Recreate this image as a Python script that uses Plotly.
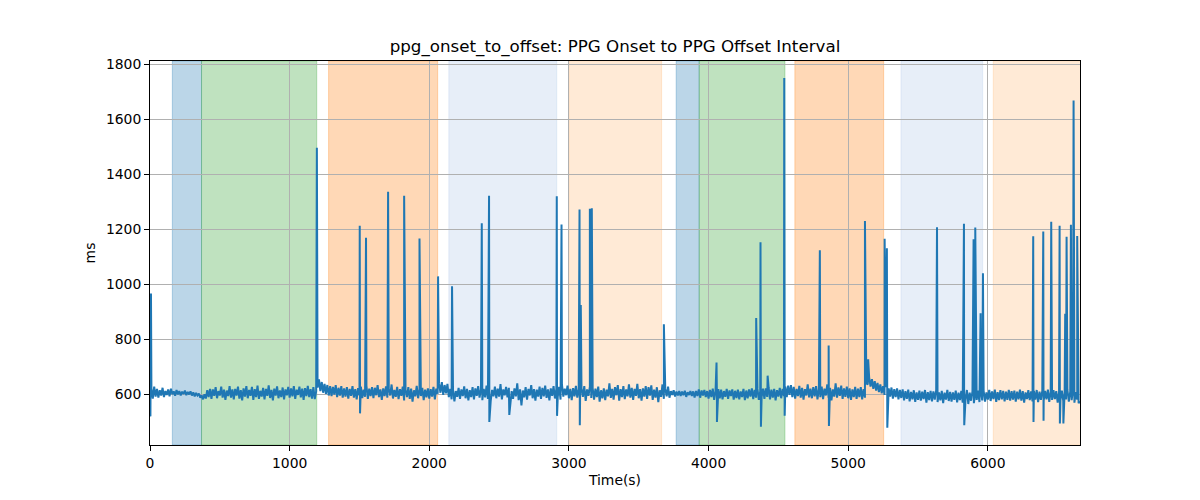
import numpy as np
import plotly.graph_objects as go

# ---------------- data ----------------
# baseline samples every 10 s (0 .. 6660 s)
base_step = 10
base_values = [
    560, 622, 585, 628, 592, 620, 588, 615, 596, 624, 590, 612, 598, 618, 593, 621, 600, 611, 595, 616,
    600, 612, 596, 610, 601, 614, 597, 609, 600, 611, 596, 607, 593, 605, 596, 603, 588, 597, 582, 600,
    585, 615, 590, 620, 584, 618, 595, 626, 586, 612, 596, 628, 588, 617, 580, 614, 594, 630, 588, 618,
    582, 620, 596, 628, 585, 615, 578, 622, 592, 630, 586, 616, 595, 627, 580, 619, 590, 632, 584, 613,
    592, 624, 582, 620, 595, 633, 587, 616, 578, 621, 596, 629, 586, 614, 590, 625, 582, 618, 597, 627,
    588, 622, 593, 630, 584, 617, 598, 628, 589, 621, 580, 623, 594, 631, 590, 619, 585, 626, 583, 612,
    625, 655, 612, 645, 606, 638, 602, 634, 596, 630, 594, 627, 599, 634, 590, 624, 596, 630, 588, 622,
    592, 626, 585, 620, 595, 630, 588, 619, 582, 623, 597, 628, 587, 617, 591, 632, 584, 621, 594, 626,
    586, 624, 597, 634, 590, 618, 580, 622, 594, 629, 588, 620, 596, 636, 585, 616, 591, 627, 583, 619,
    595, 628, 578, 617, 590, 626, 584, 621, 574, 615, 593, 631, 586, 619, 594, 624, 579, 617, 589, 622,
    585, 619, 592, 627, 582, 621, 602, 640, 606, 645, 598, 634, 604, 638, 590, 620, 582, 616, 575, 612,
    591, 624, 584, 618, 594, 629, 586, 620, 578, 615, 590, 626, 582, 622, 595, 630, 588, 618, 579, 620,
    589, 632, 584, 622, 576, 616, 593, 628, 586, 621, 592, 637, 582, 618, 597, 627, 589, 624, 565, 612,
    584, 622, 593, 640, 579, 618, 560, 614, 589, 626, 581, 620, 596, 634, 586, 619, 577, 617, 592, 628,
    584, 624, 593, 632, 587, 618, 578, 622, 595, 630, 585, 620, 591, 627, 581, 636, 592, 621, 597, 632,
    586, 620, 579, 623, 593, 631, 588, 619, 582, 622, 591, 630, 576, 618, 595, 628, 587, 623, 581, 621,
    590, 628, 574, 615, 586, 622, 579, 617, 593, 640, 587, 620, 581, 626, 597, 634, 577, 619, 590, 630,
    583, 618, 593, 636, 588, 624, 580, 620, 595, 638, 586, 619, 577, 622, 592, 630, 584, 626, 596, 633,
    580, 617, 588, 626, 572, 615, 591, 636, 584, 620, 593, 628, 588, 612, 598, 615, 592, 610, 596, 612,
    594, 610, 597, 613, 591, 608, 598, 612, 594, 611, 589, 612, 594, 618, 588, 614, 596, 616, 590, 612,
    585, 616, 590, 621, 580, 613, 593, 619, 586, 617, 582, 612, 591, 620, 584, 614, 594, 618, 581, 613,
    587, 617, 582, 611, 590, 620, 579, 614, 586, 618, 592, 622, 583, 616, 588, 620, 580, 612, 590, 621,
    584, 622, 591, 626, 582, 617, 588, 620, 578, 615, 592, 624, 586, 620, 594, 628, 590, 632, 598, 634,
    590, 627, 585, 620, 594, 631, 588, 624, 581, 619, 596, 636, 589, 621, 586, 626, 593, 630, 582, 620,
    590, 628, 583, 621, 596, 636, 587, 624, 578, 618, 592, 640, 588, 625, 595, 632, 584, 622, 591, 628,
    586, 622, 580, 618, 590, 627, 584, 621, 590, 626, 582, 619, 588, 640, 636, 662, 628, 655, 620, 648,
    614, 642, 608, 636, 604, 630, 598, 626, 588, 622, 592, 625, 585, 619, 590, 622, 582, 616, 587, 618,
    578, 612, 584, 617, 575, 609, 582, 615, 573, 607, 580, 614, 577, 610, 583, 616, 570, 608, 579, 613,
    575, 611, 581, 615, 572, 607, 578, 613, 568, 606, 581, 616, 576, 609, 574, 607, 580, 614, 571, 606,
    579, 613, 570, 608, 581, 616, 565, 606, 577, 612, 568, 605, 580, 614, 572, 608, 578, 613, 574, 607,
    581, 616, 576, 611, 583, 617, 573, 608, 579, 615, 582, 613, 575, 610, 580, 616, 577, 612, 581, 614,
    574, 610, 582, 617, 577, 612, 570, 607, 583, 615, 579, 611, 575, 613, 581, 616, 572, 610, 580, 614,
    577, 613, 582, 617, 573, 610, 580, 615, 583, 612, 570, 608, 579, 614, 576, 611, 581, 616, 574, 610,
    579, 613, 570, 608, 581, 568, 575,
]

# isolated spikes (time in s, peak in ms)
spike_t = [7, 1195, 1502, 1547, 1705, 1820, 1930, 2063, 2163, 2376,
           2428, 2913, 2947, 3076, 3085, 3150, 3164, 3680, 4057, 4341,
           4372, 4423, 4542, 4797, 4860, 5120, 5143, 5261, 5277, 5636,
           5637, 5829, 5898, 5910, 5948, 5965, 6325, 6397, 6454, 6514,
           6554, 6564, 6595, 6614, 6640]
spike_v = [967, 1497, 1213, 1169, 1337, 1322, 1167, 1029, 993, 1222,
           1322, 1320, 1218, 1272, 925, 1275, 1277, 855, 716, 878,
           1153, 668, 1750, 1124, 778, 1230, 728, 1166, 1131, 1208,
           1037, 1220, 1164, 1207, 895, 1040, 1175, 1192, 1228, 1213,
           893, 1173, 1217, 1668, 1176]

# short downward dips (time in s, value in ms)
dip_t = [3, 1504, 2430, 2573, 2915, 3078, 4060, 4375, 4545, 4862,
         5280, 5831, 6327, 6399, 6516, 6541]
dip_v = [520, 531, 500, 525, 522, 488, 500, 482, 522, 485,
         479, 488, 500, 504, 494, 494]

# shaded segments: (start s, end s, colour)
seg_start = [160, 369, 1279, 2140, 3001, 3768, 3933, 4618, 5378, 6039]
seg_end = [369, 1194, 2060, 2913, 3664, 3933, 4547, 5254, 5963, 6700]
seg_color = ["#1f77b4", "#2ca02c", "#ff7f0e", "#aec7e8", "#ffbb78",
             "#1f77b4", "#2ca02c", "#ff7f0e", "#aec7e8", "#ffbb78"]

x_max = 6660
y_min, y_max = 416, 1812
# --------------------------------------

base_t = np.arange(len(base_values)) * base_step
t_all = np.concatenate([base_t, np.array(spike_t), np.array(dip_t)]).astype(float)
v_all = np.concatenate([np.array(base_values), np.array(spike_v), np.array(dip_v)]).astype(float)
order = np.argsort(t_all, kind="stable")
t_all = t_all[order]
v_all = v_all[order]


def rgba(hexcol, a):
    h = hexcol.lstrip("#")
    r, g, b = int(h[0:2], 16), int(h[2:4], 16), int(h[4:6], 16)
    return f"rgba({r},{g},{b},{a})"


fig = go.Figure()
fig.add_trace(go.Scatter(x=t_all, y=v_all, mode="lines",
                         line=dict(color="#1f77b4", width=2.0),
                         showlegend=False, hoverinfo="skip"))

for s, e, c in zip(seg_start, seg_end, seg_color):
    fig.add_shape(type="rect", xref="x", yref="paper", x0=s, x1=e, y0=0, y1=1,
                  fillcolor=rgba(c, 0.3), line=dict(color=rgba(c, 0.3), width=1),
                  layer="below")

# page body has an 8 px default margin: figure is 1192x492 so the plot
# area lands at x 150..1080, y 61..445 in the 1200x500 window
font = "DejaVu Sans, Arial, sans-serif"
fig.update_layout(
    width=1192, height=492,
    margin=dict(l=142, r=120, t=53, b=55, autoexpand=False),
    paper_bgcolor="white", plot_bgcolor="white",
    font=dict(family=font, size=13.9, color="black"),
    title=dict(text="ppg_onset_to_offset: PPG Onset to PPG Offset Interval",
               x=0.5092, xanchor="center", y=0.9228, yanchor="middle",
               font=dict(family=font, size=16.7, color="black")),
)
axis_common = dict(showline=True, mirror=True, linecolor="black", linewidth=1.1,
                   ticks="outside", ticklen=4.9, tickwidth=1.1, tickcolor="black",
                   showgrid=True, gridcolor="#b0b0b0", gridwidth=1.1,
                   zeroline=False, automargin=False,
                   tickfont=dict(family=font, size=13.9, color="black"))
fig.update_xaxes(range=[0, x_max], tickvals=[0, 1000, 2000, 3000, 4000, 5000, 6000],
                 title=dict(text="Time(s)", standoff=5, font=dict(family=font, size=13.9)),
                 **axis_common)
fig.update_yaxes(range=[y_min, y_max], tickvals=[600, 800, 1000, 1200, 1400, 1600, 1800],
                 title=dict(text="ms", standoff=7, font=dict(family=font, size=13.9)),
                 **axis_common)

fig.write_html("out.html")
